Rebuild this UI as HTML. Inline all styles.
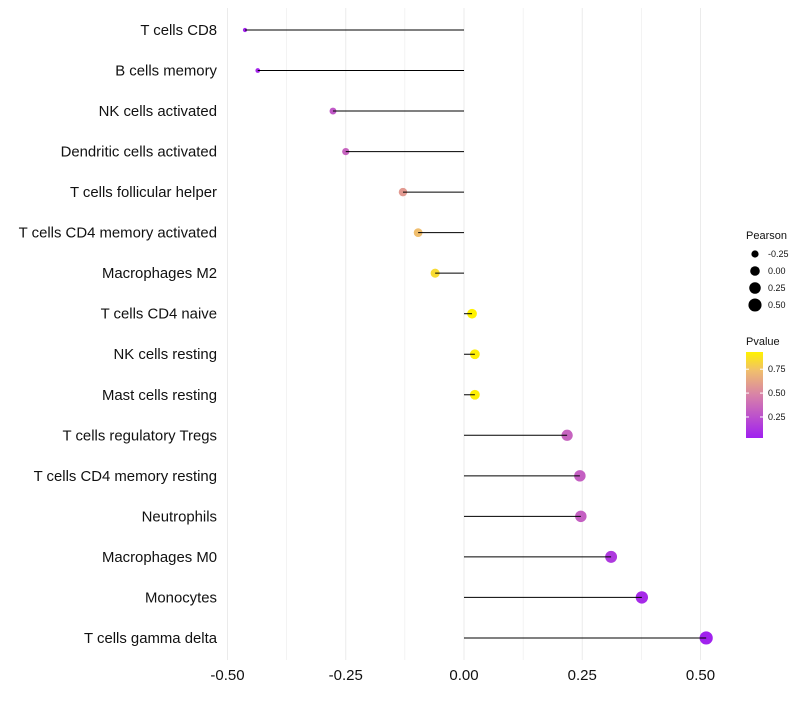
<!DOCTYPE html>
<html><head><meta charset="utf-8"><style>
body{margin:0;background:#fff;font-family:"Liberation Sans",sans-serif}
</style></head><body>
<svg id="c" width="800" height="700" style="font-family:'Liberation Sans',sans-serif"></svg>
<script>
const categories=["T cells CD8","B cells memory","NK cells activated","Dendritic cells activated","T cells follicular helper","T cells CD4 memory activated","Macrophages M2","T cells CD4 naive","NK cells resting","Mast cells resting","T cells regulatory  Tregs","T cells CD4 memory resting","Neutrophils","Macrophages M0","Monocytes","T cells gamma delta"];
const pearson=[-0.463,-0.436,-0.277,-0.25,-0.129,-0.097,-0.061,0.017,0.023,0.023,0.218,0.245,0.247,0.311,0.376,0.512];
const pvalue=[0.05,0.06,0.3,0.35,0.6,0.75,0.85,0.93,0.92,0.92,0.35,0.33,0.33,0.15,0.08,0.04];
const xTicks=[-0.5,-0.25,0,0.25,0.5];
const xTickLabels=["-0.50","-0.25","0.00","0.25","0.50"];
const sizeLegend=[-0.25,0,0.25,0.5];
const sizeLegendLabels=["-0.25","0.00","0.25","0.50"];
const colorLegend=[0.75,0.5,0.25];
const colorLegendLabels=["0.75","0.50","0.25"];
const svg=document.getElementById('c');const NS="http://www.w3.org/2000/svg";
function mk(t,a,p){const e=document.createElementNS(NS,t);for(const k in a)e.setAttribute(k,a[k]);(p||svg).appendChild(e);return e;}
const x=v=>464+v*473;
const y=i=>30+i*40.53;
const r=v=>Math.sqrt(Math.max(4,4.5+40*(v+0.463)));
const stops=[[0.03,[160,32,240]],[0.5,[216,130,168]],[0.75,[240,190,110]],[0.93,[255,242,0]]];
function col(p){if(p<=stops[0][0])return rgb(stops[0][1]);for(let i=1;i<stops.length;i++){if(p<=stops[i][0]){const a=stops[i-1],b=stops[i],t=(p-a[0])/(b[0]-a[0]);return rgb(a[1].map((c,k)=>c+(b[1][k]-c)*t));}}return rgb(stops[stops.length-1][1]);}
function rgb(c){return `rgb(${c.map(Math.round).join(',')})`;}
const grid=mk('g',{});
for(let v=-0.5;v<=0.5001;v+=0.125){const l=mk('line',{x1:x(v),x2:x(v),y1:8,y2:660,stroke:'#ebebeb','stroke-width':Math.abs((v*4)%1)<0.01?1:0.6},grid);}
xTicks.forEach((v,i)=>{const t=mk('text',{x:x(v),y:680,'text-anchor':'middle','font-size':15,fill:'#111'});t.textContent=xTickLabels[i];});
categories.forEach((c,i)=>{
const t=mk('text',{x:217,y:y(i)+5,'text-anchor':'end','font-size':14.9,fill:'#111'});t.textContent=c;
const d=mk('circle',{cx:x(pearson[i]),cy:y(i),r:r(pearson[i]),fill:col(pvalue[i])});
const l=mk('line',{x1:x(0),x2:x(pearson[i]),y1:y(i),y2:y(i),stroke:'#000','stroke-width':1});
});
const lg=mk('g',{});
let tt=mk('text',{x:746,y:239,'font-size':11,fill:'#111'},lg);tt.textContent='Pearson';
sizeLegend.forEach((v,i)=>{const cy=254+i*17;const c=mk('circle',{cx:755,cy:cy,r:r(v),fill:'#000'},lg);
const t=mk('text',{x:768,y:cy+3,'font-size':9,fill:'#111'},lg);t.textContent=sizeLegendLabels[i];});
const cg=mk('g',{});
tt=mk('text',{x:746,y:345,'font-size':11,fill:'#111'},cg);tt.textContent='Pvalue';
const defs=mk('defs',{});const gr=mk('linearGradient',{id:'g',x1:0,y1:1,x2:0,y2:0},defs);
[[0,0.03],[0.5,0.5],[0.78,0.75],[1,0.93]].forEach(s=>mk('stop',{offset:s[0],'stop-color':col(s[1])},gr));
const py=p=>438-(p-0.03)/0.9*86;
const bar=mk('rect',{x:746,y:352,width:17,height:86,fill:'url(#g)'},cg);
colorLegend.forEach((v,i)=>{mk('line',{x1:746,x2:749,y1:py(v),y2:py(v),stroke:'#fff'},cg);mk('line',{x1:760,x2:763,y1:py(v),y2:py(v),stroke:'#fff'},cg);
const t=mk('text',{x:768,y:py(v)+3,'font-size':9,fill:'#111'},cg);t.textContent=colorLegendLabels[i];});
</script>
</body></html>
